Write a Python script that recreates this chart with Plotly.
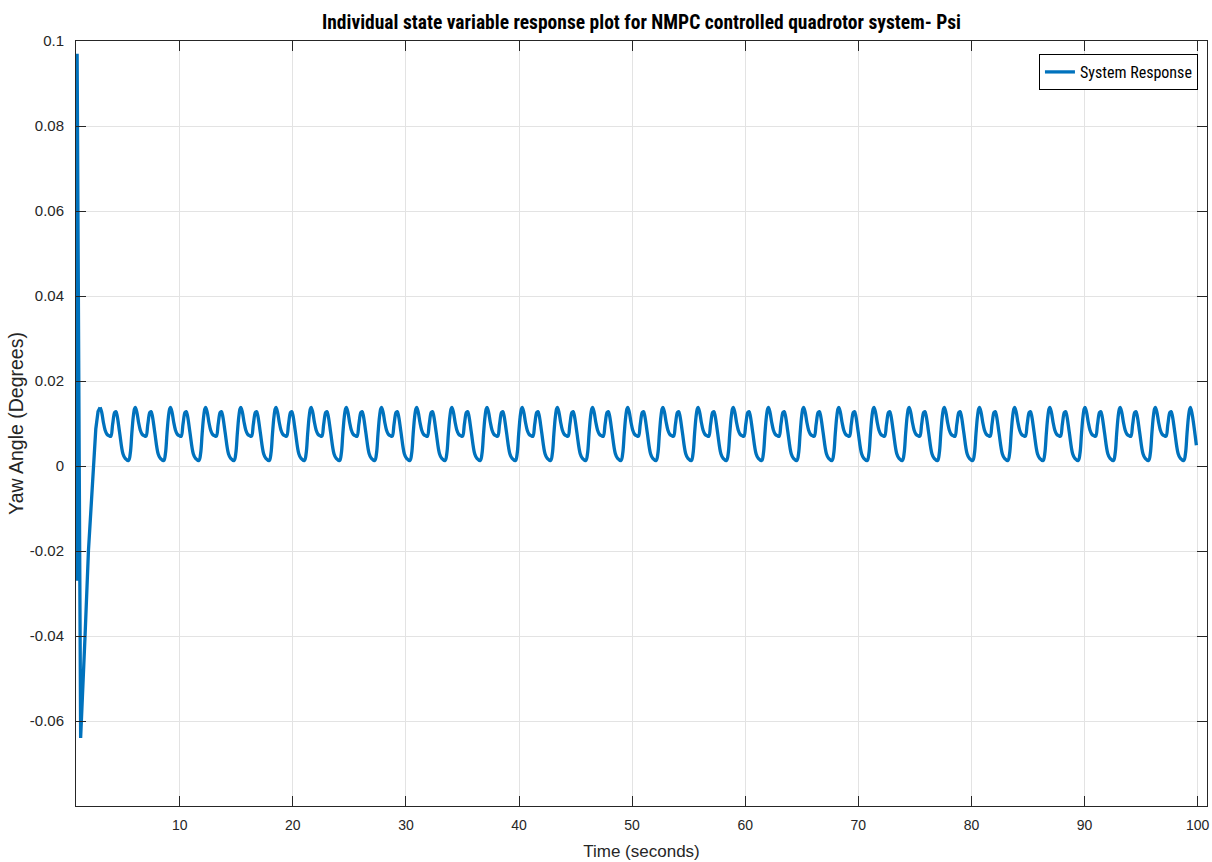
import plotly.graph_objects as go

# Start-up transient of the yaw angle (time in s, angle)
TRANSIENT_T = [0.88, 0.93, 1.24, 1.45, 1.63, 1.93, 2.37, 2.58, 2.78, 2.96]
TRANSIENT_V = [-0.027, 0.097, -0.064, -0.053, -0.040, -0.020, 0.000, 0.0087, 0.0128, 0.0138]

# One steady-state oscillation cycle, measured from a main peak
CYCLE_PHASE = [0.0, 0.13, 0.29, 0.44, 0.60, 0.80, 0.95, 1.11, 1.29, 1.40,
               1.51, 1.72, 2.02, 2.22, 2.52, 2.67, 2.80, 2.93, 3.04]
CYCLE_VALUE = [0.0138, 0.0128, 0.0103, 0.0085, 0.0075, 0.0071, 0.0070, 0.0098, 0.0126, 0.0128,
               0.0118, 0.0080, 0.0029, 0.0018, 0.0013, 0.0030, 0.0075, 0.0115, 0.0134]
FIRST_PEAK = 2.96
PERIOD = 3.11
N_CYCLES = 31
END_T = 99.89
END_V = 0.0049

X_TICKS = [10, 20, 30, 40, 50, 60, 70, 80, 90, 100]
Y_TICKS = [-0.06, -0.04, -0.02, 0, 0.02, 0.04, 0.06, 0.08, 0.1]
Y_TICK_TEXT = ["-0.06", "-0.04", "-0.02", "0", "0.02", "0.04", "0.06", "0.08", "0.1"]

# Repeat the measured cycle to build the steady-state part
steady_t, steady_v = [FIRST_PEAK], [CYCLE_VALUE[0]]
for k in range(N_CYCLES):
    base = FIRST_PEAK + k * PERIOD
    for p, val in zip(CYCLE_PHASE[1:], CYCLE_VALUE[1:]):
        steady_t.append(base + p)
        steady_v.append(val)
    steady_t.append(base + PERIOD)
    steady_v.append(CYCLE_VALUE[0])
steady_t.append(END_T)
steady_v.append(END_V)

BLUE = "#0072BD"
AX = "#262626"
NARROW = "Liberation Sans Narrow, Arial Narrow, Roboto Condensed, Liberation Sans, sans-serif"
REG = "Liberation Sans, Arial, Helvetica, sans-serif"

fig = go.Figure()
fig.add_trace(go.Scatter(x=TRANSIENT_T, y=TRANSIENT_V, mode="lines",
                         line=dict(color=BLUE, width=3.3), showlegend=False,
                         hoverinfo="skip"))
fig.add_trace(go.Scatter(x=steady_t, y=steady_v, mode="lines", name="System Response",
                         line=dict(color=BLUE, width=3.3, shape="spline", smoothing=1)))

fig.update_layout(
    width=1212, height=862,
    margin=dict(l=76, r=3, t=41, b=56),
    paper_bgcolor="white", plot_bgcolor="white",
    title=dict(text="<b>Individual state variable response plot for NMPC controlled quadrotor system- Psi</b>",
               x=0.5, xref="paper", xanchor="center", y=1 - 22 / 862, yanchor="middle",
               font=dict(family=NARROW, size=19.5, color="black")),
    legend=dict(x=0.992, y=0.983, xanchor="right", yanchor="top",
                bgcolor="white", bordercolor="black", borderwidth=1,
                font=dict(family=NARROW, size=16, color="black")),
    showlegend=True,
)
fig.update_xaxes(
    range=[0.83, 100.83], tickvals=X_TICKS, ticks="inside", ticklen=10, tickcolor=AX,
    showline=True, linecolor=AX, linewidth=1, mirror="ticks",
    showgrid=True, gridcolor="#e3e3e3", gridwidth=1, zeroline=False,
    tickfont=dict(family=REG, size=14, color=AX), ticklabelstandoff=6,
    title=dict(text="Time (seconds)", font=dict(family=REG, size=17, color=AX), standoff=13),
)
fig.update_yaxes(
    range=[-0.08, 0.1], tickvals=Y_TICKS, ticktext=Y_TICK_TEXT, ticks="inside", ticklen=10,
    tickcolor=AX, showline=True, linecolor=AX, linewidth=1, mirror="ticks",
    showgrid=True, gridcolor="#e3e3e3", gridwidth=1, zeroline=False,
    tickfont=dict(family=REG, size=15, color=AX), ticklabelstandoff=8,
    title=dict(text="Yaw Angle (Degrees)", font=dict(family=REG, size=19.5, color=AX), standoff=0),
)

fig.write_html("out.html")
